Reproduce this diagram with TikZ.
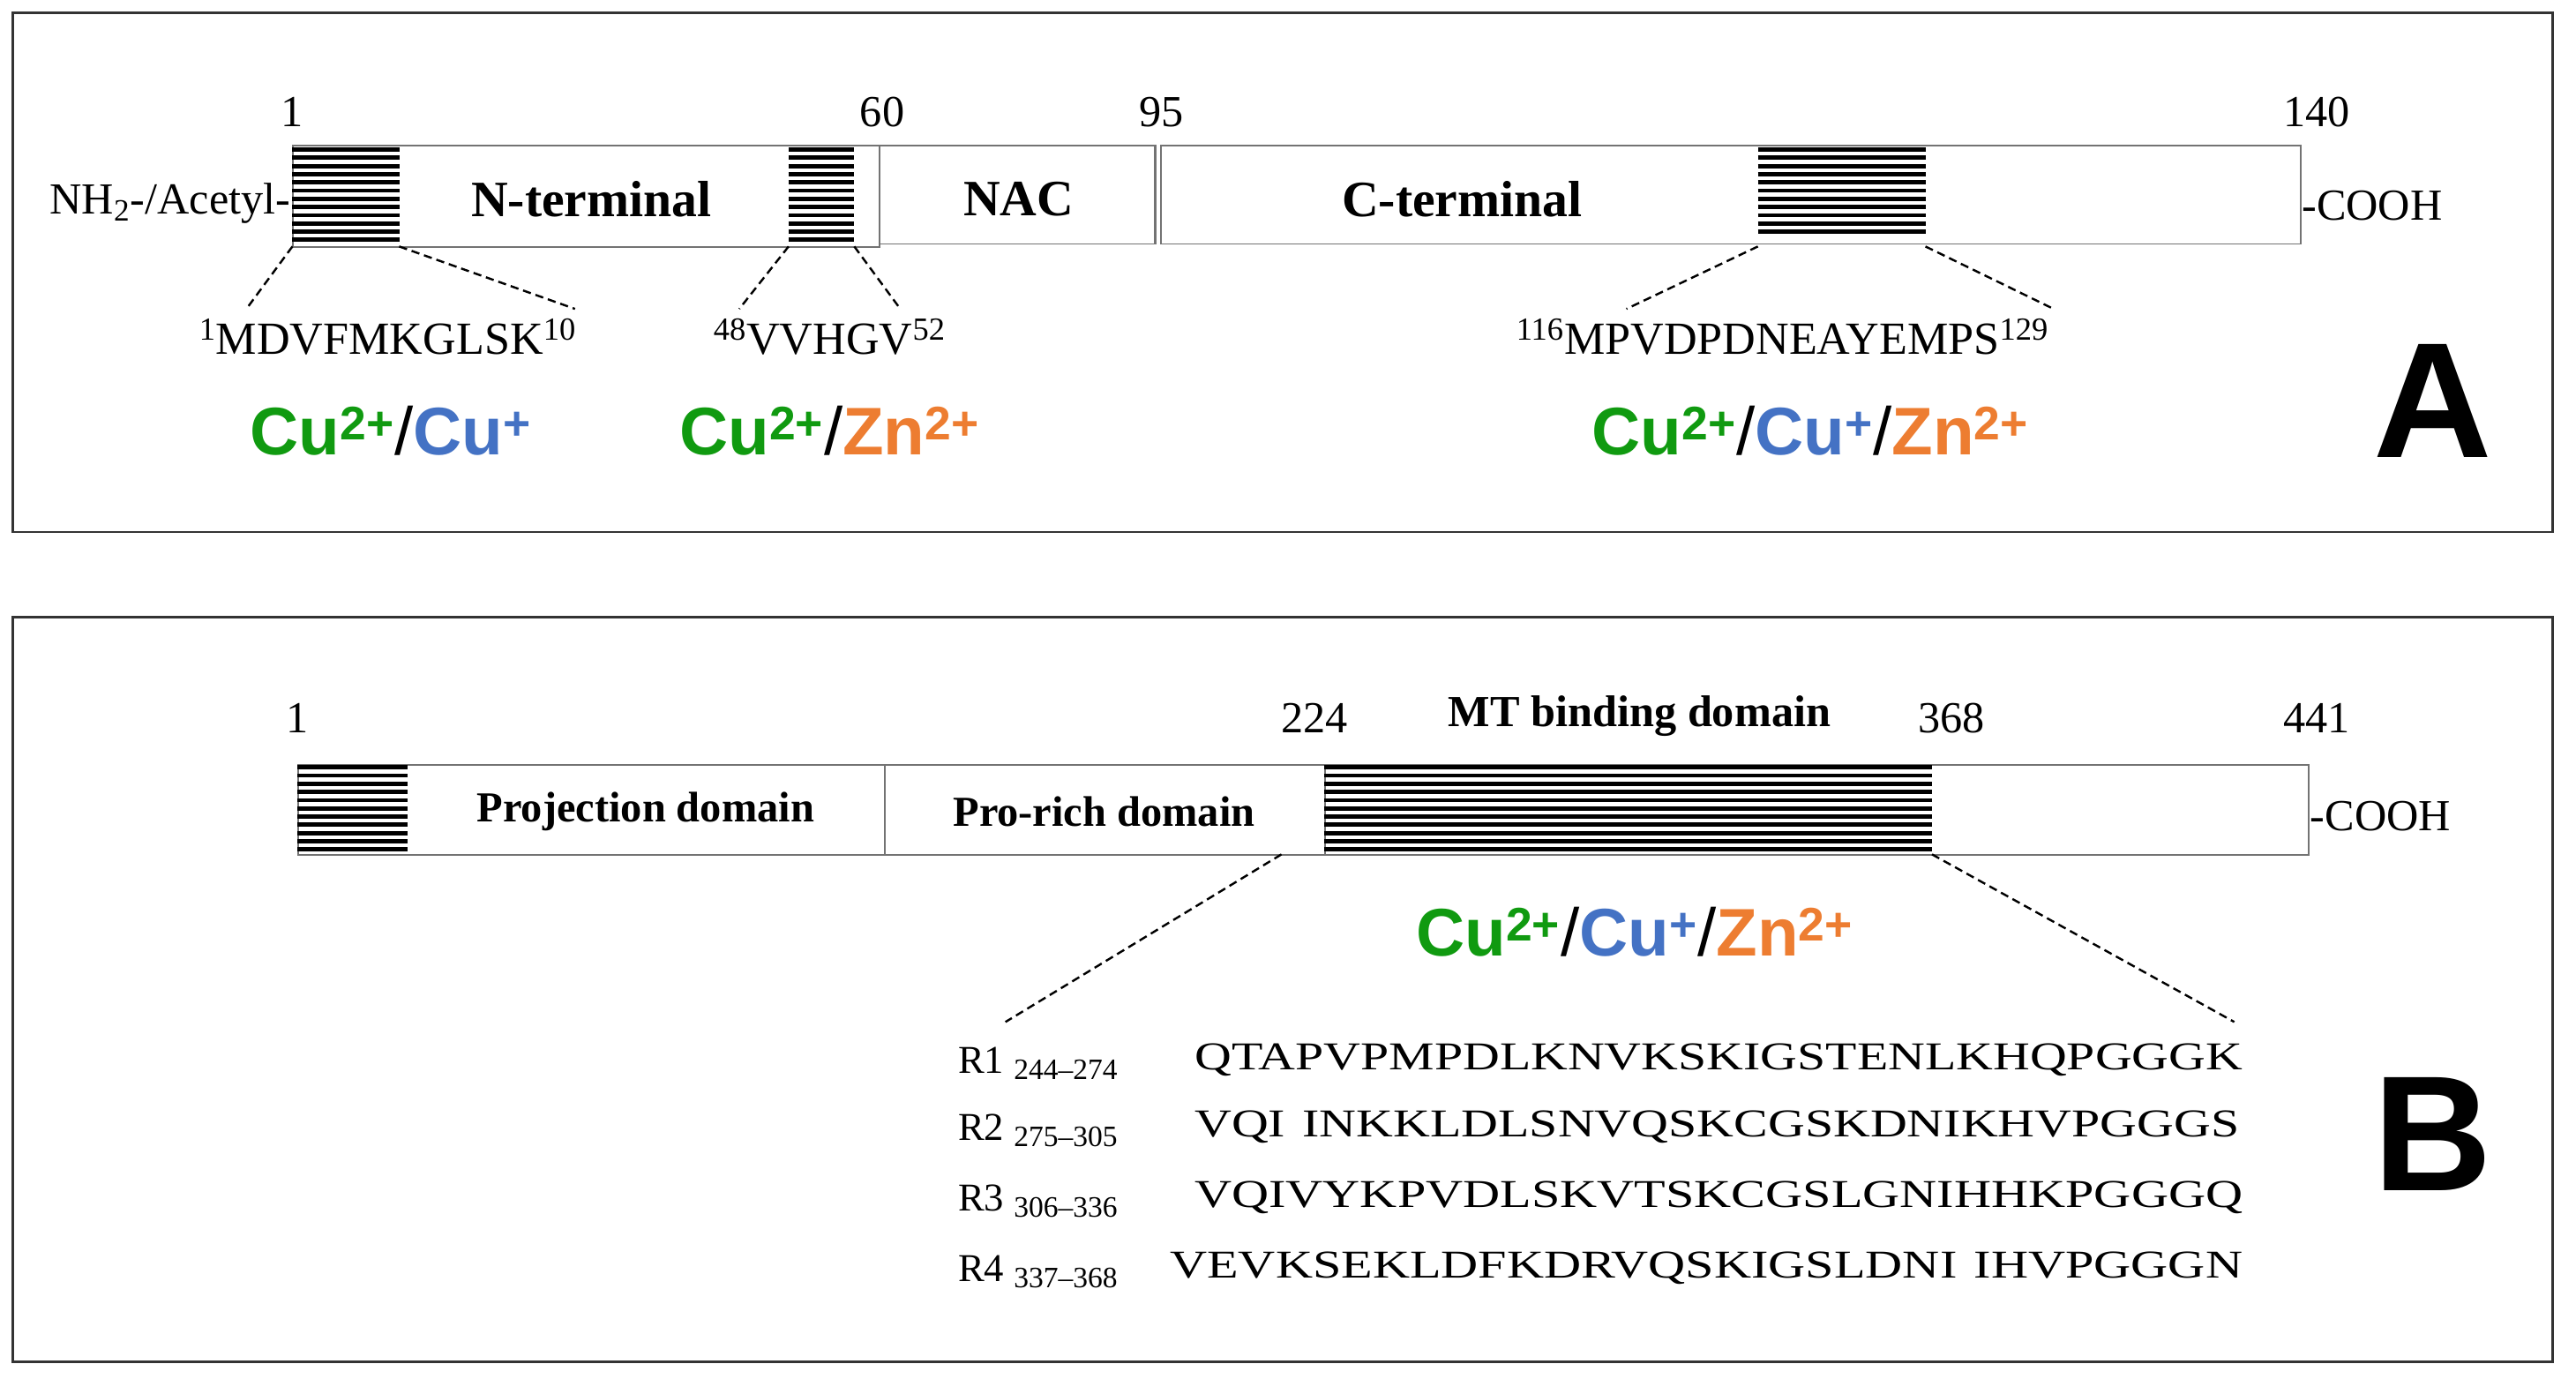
\documentclass[tikz,border=0pt]{standalone}
\usepackage{fontspec}
\usepackage{graphicx}
\setmainfont{Liberation Serif}
\newfontfamily\arial{Liberation Sans}
\definecolor{cgreen}{HTML}{109A10}
\definecolor{cblue}{HTML}{4472C4}
\definecolor{corange}{HTML}{ED7D31}
\newcommand\ionG{{\color{cgreen}Cu\textsuperscript{2+}}}
\newcommand\ionB{{\color{cblue}Cu\textsuperscript{+}}}
\newcommand\ionO{{\color{corange}Zn\textsuperscript{2+}}}
\newcommand\ionsep{{\mdseries/}}
\newcommand\hatchlines[3]{\foreach \yy in {#3}{\draw[line width=2.6pt] (#1,\yy) -- (#2,\yy);}}
\begin{document}
\begin{tikzpicture}[x=1pt,y=-1pt,
  seg/.style={draw=black!55,line width=1pt,fill=white,inner sep=0pt},
  txt/.style={font=\fontsize{27}{29}\selectfont,inner sep=0pt},
  lab/.style={font=\bfseries\fontsize{31}{33}\selectfont,inner sep=0pt},
  ion/.style={font=\arial\bfseries\fontsize{41}{44}\selectfont,inner sep=0pt},
  big/.style={font=\arial\bfseries\fontsize{100}{100}\selectfont,inner sep=0pt},
  dsh/.style={line width=1.3pt,dash pattern=on 5pt off 3pt},
  frame/.style={draw=black!80,line width=1.5pt},
  seqrow/.style={font=\fontsize{24}{26}\selectfont,inner sep=0pt,anchor=west}]
\useasboundingbox (0,0) rectangle (1568,839);
% ---------- Panel A ----------
\node[frame,minimum width=1546pt,minimum height=316pt,inner sep=0pt,anchor=north west] (fa) at (7,7) {};
\node[seg,minimum width=357pt,minimum height=62pt,anchor=north west] (nt) at (178,88) {};
\node[seg,minimum width=168pt,minimum height=60pt,anchor=north west] (nac) at (535,88) {};
\node[seg,minimum width=694pt,minimum height=60pt,anchor=north west] (ct) at (706,88) {};
\draw[black!55,line width=1pt] (703,88) -- (703,148);
\hatchlines{178}{243}{91,96,...,147}
\hatchlines{480}{520}{91,96,...,147}
\hatchlines{1070}{1172}{91,96,...,145}
\node[txt] (a1) at (178,68) {1};
\node[txt] (a60) at (537,68) {60};
\node[txt] (a95) at (707,68) {95};
\node[txt] (a140) at (1410,68) {140};
\node[lab] (lnt) at (360,121) {N-terminal};
\node[lab] (lnac) at (620,121) {NAC};
\node[lab] (lct) at (890,121) {C-terminal};
\node[txt,anchor=east] (nh2) at (177,124) {NH\textsubscript{2}-/Acetyl-};
\node[txt,anchor=west] (cooha) at (1401,125) {-COOH};
\coordinate (h1l) at (178,150); \coordinate (h1r) at (243,150);
\coordinate (h2l) at (480,150); \coordinate (h2r) at (520,150);
\coordinate (h3l) at (1070,150); \coordinate (h3r) at (1172,150);
\node[txt,font=\fontsize{28}{30}\selectfont] (s1) at (236,205) {\textsuperscript{1}MDVFMKGLSK\textsuperscript{10}};
\node[txt,font=\fontsize{28}{30}\selectfont] (s2) at (505,205) {\textsuperscript{48}VVHGV\textsuperscript{52}};
\node[txt,font=\fontsize{28}{30}\selectfont] (s3) at (1085,205) {\textsuperscript{116}MPVDPDNEAYEMPS\textsuperscript{129}};
\coordinate (e1) at (150,188); \coordinate (e2) at (350,188);
\coordinate (e3) at (450,188); \coordinate (e4) at (548,188);
\coordinate (e5) at (990,188); \coordinate (e6) at (1250,188);
\draw[dsh] (h1l) -- (e1); \draw[dsh] (h1r) -- (e2);
\draw[dsh] (h2l) -- (e3); \draw[dsh] (h2r) -- (e4);
\draw[dsh] (h3l) -- (e5); \draw[dsh] (h3r) -- (e6);
\node[ion] (i1) at (238,262) {\ionG\ionsep\ionB};
\node[ion] (i2) at (505,262) {\ionG\ionsep\ionO};
\node[ion] (i3) at (1102,262) {\ionG\ionsep\ionB\ionsep\ionO};
\node[big] (A) at (1481,244) {A};
% ---------- Panel B ----------
\node[frame,minimum width=1546pt,minimum height=453pt,inner sep=0pt,anchor=north west] (fb) at (7,375) {};
\node[seg,minimum width=357pt,minimum height=55pt,anchor=north west] (pd) at (181,465) {};
\node[seg,minimum width=268pt,minimum height=55pt,anchor=north west] (pr) at (538,465) {};
\node[seg,minimum width=599pt,minimum height=55pt,anchor=north west] (mt) at (806,465) {};
\hatchlines{181}{248}{467,472,...,518}
\hatchlines{806}{1176}{467,472,...,518}
\node[txt] (b1) at (181,437) {1};
\node[txt] (b224) at (800,437) {224};
\node[txt] (b368) at (1188,437) {368};
\node[txt] (b441) at (1410,437) {441};
\node[lab,font=\bfseries\fontsize{27}{29}\selectfont] (lmt) at (998,436) {MT binding domain};
\node[lab,font=\bfseries\fontsize{26}{28}\selectfont] (lpd) at (393,494) {Projection domain};
\node[lab,font=\bfseries\fontsize{26}{28}\selectfont] (lpr) at (672,494) {Pro-rich domain};
\node[txt,anchor=west] (coohb) at (1406,497) {-COOH};
\node[ion] (i4) at (995,567) {\ionG\ionsep\ionB\ionsep\ionO};
\coordinate (m1) at (780,520); \coordinate (m2) at (1176,520);
\coordinate (f1) at (612,622); \coordinate (f2) at (1360,622);
\draw[dsh] (m1) -- (f1); \draw[dsh] (m2) -- (f2);
\node[seqrow] (r1) at (583,647) {R1 \textsubscript{\fontsize{18}{18}\selectfont 244–274}};
\node[seqrow] (r2) at (583,688) {R2 \textsubscript{\fontsize{18}{18}\selectfont 275–305}};
\node[seqrow] (r3) at (583,731) {R3 \textsubscript{\fontsize{18}{18}\selectfont 306–336}};
\node[seqrow] (r4) at (583,774) {R4 \textsubscript{\fontsize{18}{18}\selectfont 337–368}};
\node[seqrow] (q1) at (727,645) {\resizebox{638pt}{\height}{QTAPVPMPDLKNVKSKIGSTENLKHQPGGGK}};
\node[seqrow] (q2) at (727,686) {\resizebox{636pt}{\height}{VQI\,\,INKKLDLSNVQSKCGSKDNIKHVPGGGS}};
\node[seqrow] (q3) at (727,729) {\resizebox{638pt}{\height}{VQIVYKPVDLSKVTSKCGSLGNIHHKPGGGQ}};
\node[seqrow] (q4) at (712,772) {\resizebox{653pt}{\height}{VEVKSEKLDFKDRVQSKIGSLDNI\,\,IHVPGGGN}};
\node[big] (B) at (1481,690) {B};
\end{tikzpicture}
\end{document}
